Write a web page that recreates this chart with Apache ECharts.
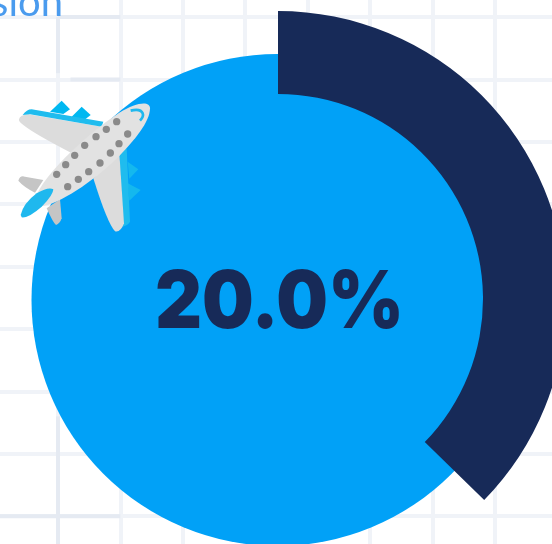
<!DOCTYPE html>
<html><head><meta charset="utf-8">
<style>html,body{margin:0;padding:0;background:#fff;overflow:hidden}#c{width:552px;height:544px}</style>
<script src="https://cdn.jsdelivr.net/npm/echarts@6/dist/echarts.min.js"></script></head>
<body><div id="c"></div>
<script>
const centerLabel = "20.0%";
const cornerLabel = "sion";
const discValues = [100];
const arcValues = [37.3, 62.7];
const gridSegments = [
  [[1,1],[2,1]], [[1,1],[1,1.9]], [[1.2,2],[2,2]], [[1,7.4],[1,10]], [[0,9],[2,9]]
];
const windows = [[350,125],[319,148],[288,170],[254,196],[224,226],[197,254],[170,283],
  [383,162],[357,191],[331,219],[300,249],[266,275],[235,298],[203,320]];
const planeParts = [
  ["M150,95 L185,62 L210,88 L190,102 Z", "#00b8f1"],
  ["M215,110 L245,80 L272,105 L250,122 Z", "#00b8f1"],
  ["M383,245 L415,268 L388,296 Z", "#14b8ee"],
  ["M383,310 L422,330 L388,362 Z", "#14b8ee"],
  ["M57,118 Q60,105 85,103 L305,140 L220,222 Q100,160 70,135 Q55,125 57,118 Z", "#dcdcdc"],
  ["M68,105 Q80,88 95,88 L310,125 L305,140 L90,103 Z", "#1fbcee"],
  ["M358,212 L380,205 L390,425 Q385,435 368,440 Z", "#1fbcee"],
  ["M280,295 L358,220 L372,430 Q362,458 345,454 Q322,430 280,295 Z", "#dcdcdc"],
  ["M55,302 Q60,285 75,290 L130,300 L105,338 Q70,320 55,302 Z", "#c5c5c5"],
  ["M140,385 L180,358 L185,415 Q180,430 168,435 Q160,430 140,385 Z", "#c5c5c5"],
  ["M100,372 C112,300 255,165 358,98 C410,66 450,62 450,85 C450,125 405,180 348,238 C278,305 180,372 120,380 Z", "#e2e2e2"],
  ["M62,405 Q70,370 110,340 Q145,320 160,328 Q160,345 125,380 Q85,415 65,412 Z", "#1fb8ee"]
];
const chart = echarts.init(document.getElementById('c'), null, {renderer:'canvas'});
chart.setOption({
  animation:false,
  backgroundColor:'#ffffff',
  grid:{outerBoundsMode:'none',left:-4.4, top:-45.4, width:624, height:624},
  xAxis:{type:'value',min:0,max:10,interval:1,axisLine:{show:false},axisTick:{show:false},axisLabel:{show:false},
    splitLine:{show:true,lineStyle:{color:'#f0f3f8',width:4}}},
  yAxis:{type:'value',min:0,max:10,interval:1,inverse:true,axisLine:{show:false},axisTick:{show:false},axisLabel:{show:false},
    splitLine:{show:true,lineStyle:{color:'#f0f3f8',width:4}}},
  graphic:[
   {type:'text',x:63,y:23,z:10,silent:true,
    style:{text:cornerLabel,fill:'#4a9bee',font:'400 40px Lato',textAlign:'right',textVerticalAlign:'bottom'}},
   {type:'text',x:279.5,y:304,scaleX:0.91,z:10,silent:true,
    style:{text:centerLabel,fill:'#172a58',font:'900 80px Inter',textAlign:'center',textVerticalAlign:'middle'}}
  ],
  series:[
    ...gridSegments.map(s=>({type:'line',data:s,showSymbol:false,silent:true,z:1,lineStyle:{color:'#e5eaf2',width:4}})),
    {type:'pie',center:[277.5,300],radius:[0,246],startAngle:90,silent:true,z:3,label:{show:false},labelLine:{show:false},
      data:discValues.map(v=>({value:v,itemStyle:{color:'#01a1f7'}}))},
    {type:'pie',center:[278,299],radius:[205,288],startAngle:90,clockwise:true,silent:true,z:4,label:{show:false},labelLine:{show:false},
      data:arcValues.map((v,i)=>({value:v,itemStyle:{color:i===0?'#172a58':'transparent'}}))},
    {type:'custom',coordinateSystem:'none',z:8,silent:true,data:[0],
      renderItem:()=>({type:'group',x:0,y:80,scaleX:1/3,scaleY:1/3,children:[
        ...planeParts.map(p=>({type:'path',shape:{pathData:p[0]},style:{fill:p[1]}})),
        {type:'path',shape:{pathData:'M392,92 Q422,85 428,100 Q432,110 420,122'},style:{fill:'none',stroke:'#1fb8ee',lineWidth:8}},
        ...windows.map(w=>({type:'circle',shape:{cx:w[0],cy:w[1],r:11},style:{fill:'#8a8a8a'}}))
      ]})}
  ]
});
</script></body></html>
